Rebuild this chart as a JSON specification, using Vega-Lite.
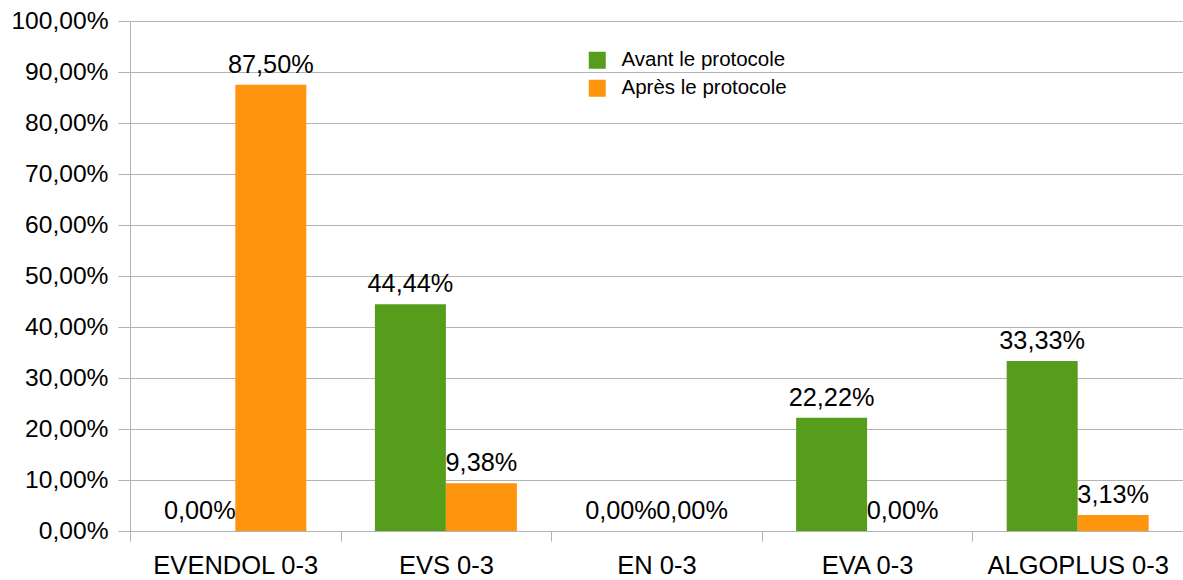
{
  "$schema": "https://vega.github.io/schema/vega-lite/v6.json",
  "autosize": "none",
  "width": 1053,
  "height": 510,
  "padding": {"left": 130, "top": 21, "right": 0, "bottom": 49},
  "background": "white",
  "data": {
    "values": [
      {"cat": "EVENDOL 0-3", "serie": "Avant le protocole", "v": 0},
      {"cat": "EVENDOL 0-3", "serie": "Après le protocole", "v": 0.875},
      {"cat": "EVS 0-3", "serie": "Avant le protocole", "v": 0.4444},
      {"cat": "EVS 0-3", "serie": "Après le protocole", "v": 0.0938},
      {"cat": "EN 0-3", "serie": "Avant le protocole", "v": 0},
      {"cat": "EN 0-3", "serie": "Après le protocole", "v": 0},
      {"cat": "EVA 0-3", "serie": "Avant le protocole", "v": 0.2222},
      {"cat": "EVA 0-3", "serie": "Après le protocole", "v": 0},
      {"cat": "ALGOPLUS 0-3", "serie": "Avant le protocole", "v": 0.3333},
      {"cat": "ALGOPLUS 0-3", "serie": "Après le protocole", "v": 0.0313}
    ]
  },
  "encoding": {
    "x": {
      "field": "cat", "type": "nominal",
      "sort": ["EVENDOL 0-3", "EVS 0-3", "EN 0-3", "EVA 0-3", "ALGOPLUS 0-3"],
      "scale": {"paddingInner": 0, "paddingOuter": 0},
      "axis": {
        "title": null, "labelAngle": 0, "tickBand": "extent",
        "labelFontSize": 25.5, "labelColor": "black", "labelFont": "Liberation Sans",
        "tickSize": 10, "tickColor": "#b3b3b3", "domainColor": "#b3b3b3",
        "labelPadding": 12, "grid": false, "labelLimit": 0
      }
    },
    "xOffset": {
      "field": "serie", "type": "nominal",
      "sort": ["Avant le protocole", "Après le protocole"],
      "scale": {"paddingInner": 0, "paddingOuter": 0.483}
    },
    "y": {
      "field": "v", "type": "quantitative",
      "scale": {"domain": [0, 1], "nice": false},
      "axis": {
        "title": null, "values": [0, 0.1, 0.2, 0.3, 0.4, 0.5, 0.6, 0.7, 0.8, 0.9, 1],
        "labelExpr": "replace(format(datum.value * 100, '.2f'), '.', ',') + '%'",
        "labelFontSize": 24.6, "labelColor": "black", "labelFont": "Liberation Sans",
        "tickSize": 12, "tickColor": "#b3b3b3", "domainColor": "#b3b3b3",
        "gridColor": "#b3b3b3", "grid": true, "labelPadding": 10
      }
    }
  },
  "layer": [
    {
      "mark": {"type": "bar"},
      "encoding": {
        "color": {
          "field": "serie", "type": "nominal",
          "scale": {"domain": ["Avant le protocole", "Après le protocole"], "range": ["#579d1c", "#ff950e"]},
          "legend": {
            "title": null, "orient": "none", "legendX": 457, "legendY": 29,
            "symbolType": "square", "symbolSize": 289, "symbolStrokeWidth": 0,
            "labelFontSize": 20.5, "labelFont": "Liberation Sans", "labelColor": "black",
            "labelOffset": 14, "rowPadding": 7, "labelLimit": 0
          }
        }
      }
    },
    {
      "mark": {"type": "text", "fontSize": 25.3, "font": "Liberation Sans", "color": "black", "baseline": "alphabetic", "dy": -12},
      "encoding": {
        "text": {"field": "v", "type": "quantitative", "format": ".2%"}
      }
    }
  ],
  "config": {
    "view": {"stroke": null},
    "locale": {"number": {"decimal": ",", "thousands": " ", "grouping": [3], "currency": ["", " €"]}}
  }
}
